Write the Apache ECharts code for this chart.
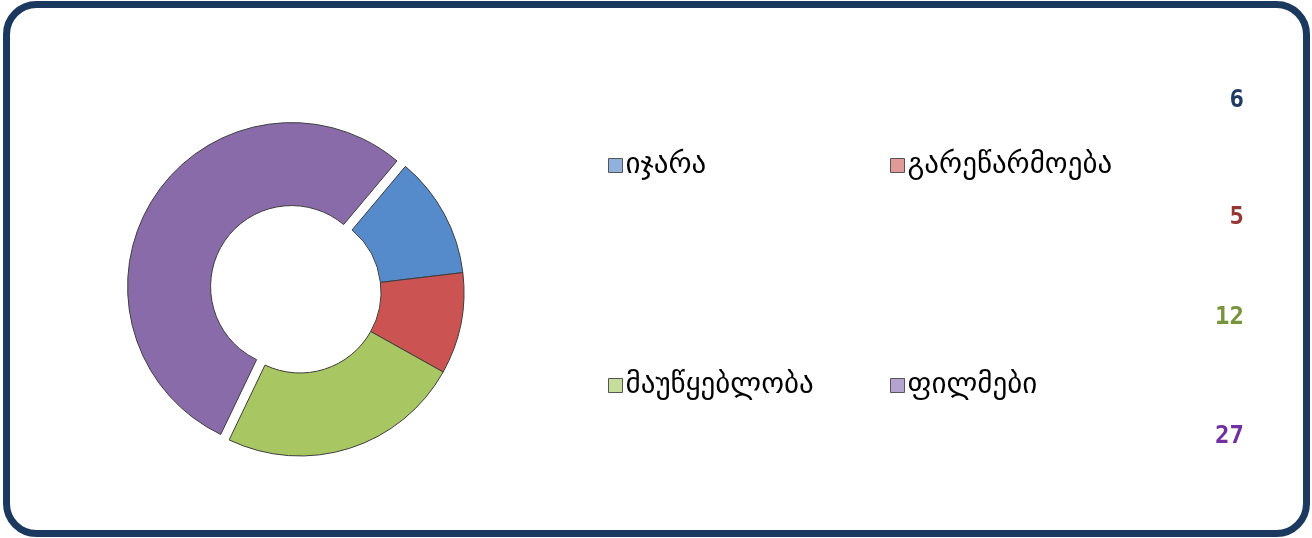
<!DOCTYPE html>
<html><head><meta charset="utf-8">
<script src="https://cdn.jsdelivr.net/npm/echarts@6/dist/echarts.min.js"></script>
<style>html,body{margin:0;padding:0;background:#fff}#c{width:1312px;height:538px}</style>
</head><body><div id="c"></div>
<script>
const categories = ['იჯარა', 'გარეწარმოება', 'მაუწყებლობა', 'ფილმები'];
const values = [6, 5, 12, 27];
const sliceColors = ['#558ACB', '#CB5452', '#A8C661', '#8A6BAA'];
const iconColors = ['#8FB1DC', '#E09A99', '#C5DC9A', '#B5A3CF'];
const valueColors = ['#1F3B64', '#953735', '#77933C', '#7030A0'];

const chart = echarts.init(document.getElementById('c'));
const legendPos = [[603, 146], [885, 146], [603, 366], [885, 366]];
const legends = categories.map((name, i) => ({
  data: [{name: name, itemStyle: {color: iconColors[i], borderColor: '#555', borderWidth: 1}}],
  left: legendPos[i][0], top: legendPos[i][1],
  itemWidth: 14, itemHeight: 14, itemGap: 4, icon: 'rect',
  selectedMode: false,
  textStyle: {fontFamily: 'DejaVu Sans', fontSize: 29, color: '#000', padding: [6,0,0,-2]}
}));
const valueY = [101, 218, 318, 437];
const graphics = [{
  type: 'rect', shape: {x: 6.5, y: 4.5, width: 1300, height: 529, r: 30},
  style: {fill: 'none', stroke: '#1B385F', lineWidth: 7}, z: 100
}].concat(values.map((v, i) => ({
  type: 'text', x: 1244, y: valueY[i],
  style: {text: String(v), fill: valueColors[i], font: 'bold 24px "DejaVu Sans Mono"', align: 'right', verticalAlign: 'middle'}
})));
chart.setOption({
  animation: false,
  legend: legends,
  graphic: graphics,
  series: [{
    type: 'pie',
    center: [300, 292],
    radius: [81, 164],
    startAngle: 50,
    clockwise: true,
    selectedMode: 'multiple',
    selectedOffset: 10,
    label: {show: false},
    labelLine: {show: false},
    emphasis: {disabled: true},
    itemStyle: {borderColor: '#3d3d3d', borderWidth: 1},
    data: categories.map((name, i) => ({
      name: name, value: values[i], selected: i === 3,
      itemStyle: {color: sliceColors[i]}
    }))
  }]
});
</script></body></html>
